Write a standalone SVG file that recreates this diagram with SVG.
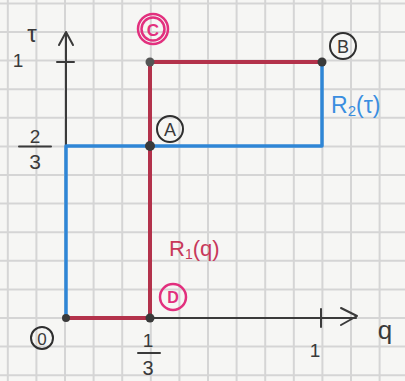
<svg xmlns="http://www.w3.org/2000/svg" width="405" height="381" viewBox="0 0 405 381">
<style>
.grid{stroke:#d5d5d5;stroke-width:2;fill:none}
.ax{stroke:#3a3a3a;stroke-width:2;fill:none;stroke-linecap:round;stroke-linejoin:round}
.red{stroke:#b3324b;stroke-width:4;fill:none;stroke-linecap:round}
.blue{stroke:#2f86d6;stroke-width:3.5;fill:none;stroke-linecap:round;stroke-linejoin:round}
.t{font-family:"Liberation Sans",Arial,sans-serif;fill:#3a3a3a;text-anchor:middle}
.ring{fill:none;stroke:#2f2f2f;stroke-width:2}
.pring{fill:none;stroke:#e2307e;stroke-width:2.5}
.pt{font-family:"Liberation Sans",Arial,sans-serif;fill:#e2307e;text-anchor:middle;font-weight:bold}
.dot{fill:#3a3a3a}
</style>
<rect width="405" height="381" fill="#f6f6f4"/>
<path class="grid" d="M7.8 0V381M36.4 0V381M65 0V381M93.6 0V381M122.2 0V381M150.8 0V381M179.4 0V381M208 0V381M236.6 0V381M265.2 0V381M293.8 0V381M322.4 0V381M351 0V381M379.6 0V381M0 3.4H405M0 32H405M0 60.6H405M0 89.2H405M0 117.8H405M0 146.4H405M0 175H405M0 203.6H405M0 232.2H405M0 260.8H405M0 289.4H405M0 318H405M0 346.6H405M0 375.2H405"/>
<g id="axes">
<path class="ax" d="M66 319V33M59 45L66 32L73 45M57 62H74"/>
<path class="ax" d="M64 318H356M341 308L357 316L341 325M321 309V327"/>
<text class="t" x="32" y="42" font-size="24">τ</text>
<text class="t" x="18" y="67" font-size="19">1</text>
<text class="t" x="35" y="143" font-size="19">2</text>
<path class="ax" d="M19 146.5H51"/>
<text class="t" x="35" y="169" font-size="21">3</text>
<text class="t" x="148" y="347" font-size="19">1</text>
<path class="ax" d="M138 353H160"/>
<text class="t" x="148" y="375" font-size="20">3</text>
<text class="t" x="315" y="357" font-size="19">1</text>
<text class="t" x="385" y="339" font-size="26">q</text>
</g>
<g id="connectors">
<path class="blue" d="M66 318V146H322V62"/>
<path class="red" d="M66 318H150V62H322"/>
</g>
<g id="node-O">
<circle class="dot" cx="66" cy="318" r="4"/>
<circle class="ring" cx="42" cy="338" r="11"/>
<text class="t" x="42" y="344.5" font-size="17">0</text>
</g>
<g id="node-D">
<circle class="dot" cx="150" cy="318" r="4.5"/>
<circle class="pring" cx="173" cy="297" r="13"/>
<text class="pt" x="173" y="303" font-size="16">D</text>
</g>
<g id="node-A">
<circle class="dot" cx="150" cy="146" r="5"/>
<circle class="ring" cx="170" cy="129" r="13"/>
<text class="t" x="170" y="135.5" font-size="18">A</text>
</g>
<g id="node-C">
<circle fill="#555" cx="150" cy="62" r="4.5"/>
<circle class="pring" cx="153" cy="29" r="15"/>
<circle class="pring" cx="153" cy="29" r="11.5"/>
<text class="pt" x="153" y="35.5" font-size="17">C</text>
</g>
<g id="node-B">
<circle class="dot" cx="322" cy="62" r="4.5"/>
<circle class="ring" cx="343" cy="46" r="13"/>
<text class="t" x="343" y="52.5" font-size="18">B</text>
</g>
<text x="169" y="256" font-family="'Liberation Sans',Arial,sans-serif" font-size="22" fill="#c8385a">R<tspan font-size="14" dy="3">1</tspan><tspan dy="-3">(q)</tspan></text>
<text x="331" y="113" font-family="'Liberation Sans',Arial,sans-serif" font-size="23" fill="#3a8ee0">R<tspan font-size="15" dy="3">2</tspan><tspan dy="-3">(τ)</tspan></text>
</svg>
